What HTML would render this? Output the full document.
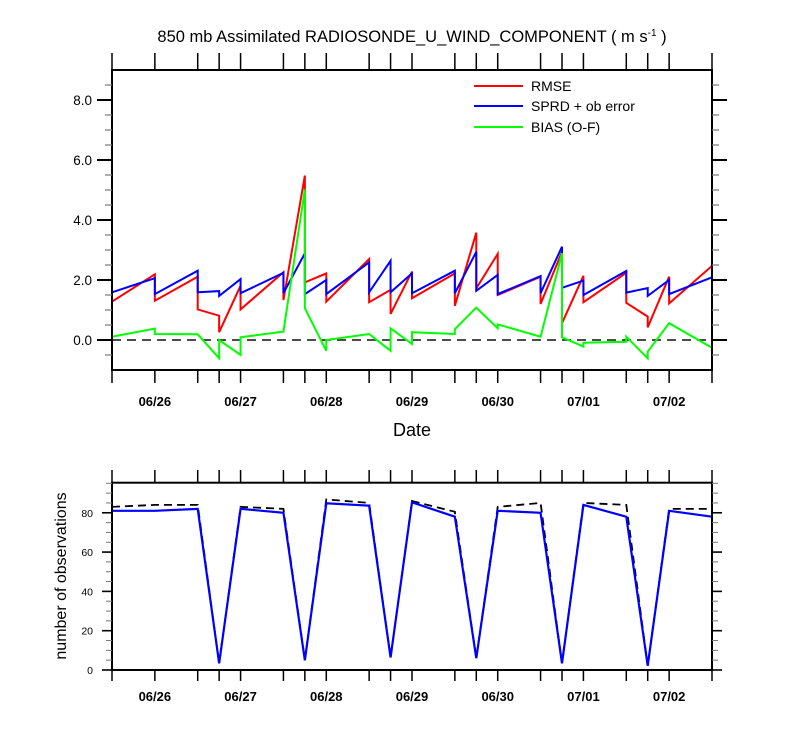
<!DOCTYPE html>
<html><head><meta charset="utf-8"><style>
body{margin:0;background:#fff;}
svg{display:block;font-family:"Liberation Sans",Arial,sans-serif;}
</style></head><body>
<svg id="c" width="800" height="750" viewBox="0 0 800 750">
<text x="412" y="42" text-anchor="middle" font-size="16.5">850 mb Assimilated RADIOSONDE_U_WIND_COMPONENT ( m s<tspan dy="-6" font-size="10">-1</tspan><tspan dy="6"> )</tspan></text>
<text x="412" y="436" text-anchor="middle" font-size="18">Date</text>
<text transform="translate(66,576) rotate(-90)" text-anchor="middle" font-size="16">number of observations</text>
<g>
<line x1="474" y1="86" x2="523" y2="86" stroke="#f00" stroke-width="2"/>
<text x="531" y="91" font-size="14">RMSE</text>
<line x1="474" y1="106" x2="523" y2="106" stroke="#00f" stroke-width="2"/>
<text x="531" y="111" font-size="14">SPRD + ob error</text>
<line x1="474" y1="127" x2="523" y2="127" stroke="#0f0" stroke-width="2"/>
<text x="531" y="132" font-size="14">BIAS (O-F)</text>
</g>
</svg>
<script>
// data: times in days from 06/25 12Z; each time has [before, after] values
const times=[0,0.5,1,1.25,1.5,2,2.25,2.5,3,3.25,3.5,4,4.25,4.5,5,5.25,5.5,6,6.25,6.5,7];
const rmse=[[2.2,1.28],[2.19,1.31],[2.11,1.02],[0.81,0.26],[1.81,1.02],[2.26,1.33],[5.48,1.92],[2.22,1.28],[2.7,1.26],[1.67,0.87],[2.28,1.39],[2.22,1.14],[3.58,1.72],[2.87,1.5],[2.11,1.2],[2.94,0.56],[2.14,1.26],[2.24,1.24],[0.78,0.42],[2.11,1.22],[2.47,1.28]];
const sprd=[[1.59,1.59],[2.06,1.53],[2.31,1.59],[1.63,1.47],[2.03,1.56],[2.24,1.56],[2.89,1.53],[2.0,1.53],[2.59,1.59],[2.64,1.59],[2.22,1.56],[2.31,1.56],[2.94,1.64],[2.17,1.53],[2.13,1.56],[3.11,1.74],[1.98,1.5],[2.3,1.58],[1.73,1.47],[2.0,1.53],[2.09,2.09]];
const bias=[[-0.36,0.11],[0.38,0.2],[0.19,0.19],[-0.61,0.0],[-0.5,0.09],[0.28,0.28],[5.02,1.06],[-0.36,0.0],[0.2,0.2],[-0.36,0.39],[-0.13,0.26],[0.2,0.36],[1.08,1.08],[0.39,0.52],[0.11,0.11],[2.89,0.09],[-0.22,-0.09],[-0.06,0.11],[-0.61,-0.39],[0.56,0.56],[-0.26,-0.26]];
const obsUsed=[81,81,82,3.4,82,80,5,84.8,83.6,6.4,85.3,78,6,81,80,3.4,84,78,2.2,81,78];
const obsTotal=[83,84,84,3.4,83,82,5,86.8,85,6.4,86,80.5,6,83,85,3.4,85,84,2.2,82,82];
const dayLabels=["06/26","06/27","06/28","06/29","06/30","07/01","07/02"];
const dayTimes=[0.5,1.5,2.5,3.5,4.5,5.5,6.5];
const yTicks1=[0,2,4,6,8];
const yTicks2=[0,20,40,60,80];

const svg=document.getElementById('c');
const NS='http://www.w3.org/2000/svg';
function el(tag,attrs,parent){const e=document.createElementNS(NS,tag);for(const k in attrs)e.setAttribute(k,attrs[k]);(parent||svg).appendChild(e);return e;}
const X0=112,X1=712;
const xs=t=>X0+t/7*(X1-X0);
const y1=v=>370-(v+1)/10*300;
const y2=v=>670-v*(670-482.7)/95.3;

// top chart
const g1=el('g',{});


const zl=el('line',{x1:X0,x2:X1,y1:y1(0),y2:y1(0),stroke:'#333','stroke-width':1.8,'stroke-dasharray':'9,6'},g1);


function pairPath(arr){let d='';arr.forEach((p,i)=>{d+=(i?'L':'M')+xs(times[i])+','+y1(p[0])+'L'+xs(times[i])+','+y1(p[1]);});return d;}
[[rmse,'#f00','rmse-line'],[sprd,'#00f','sprd-line'],[bias,'#0f0','bias-line']].forEach(s=>{
  const p=el('path',{d:pairPath(s[0]),fill:'none',stroke:s[1],'stroke-width':2,'stroke-linejoin':'miter'},g1);
  
  
});
el('rect',{x:X0,y:70,width:X1-X0,height:300,fill:'none',stroke:'#000','stroke-width':2},g1);
times.forEach(t=>{
  el('line',{x1:xs(t),x2:xs(t),y1:70,y2:53,stroke:'#000','stroke-width':1.5},g1);
  el('line',{x1:xs(t),x2:xs(t),y1:370,y2:383,stroke:'#000','stroke-width':1.5},g1);
});
for(let v=-0.5;v<=8.5;v+=0.5){
  const maj=Math.abs(v%2)<1e-6;
  const L=maj?15:7;
  el('line',{x1:X0-L,x2:X0,y1:y1(v),y2:y1(v),stroke:maj?'#000':'#777','stroke-width':maj?2:1.2},g1);
  el('line',{x1:X1,x2:X1+L,y1:y1(v),y2:y1(v),stroke:maj?'#000':'#777','stroke-width':maj?2:1.2},g1);
}
yTicks1.forEach(v=>{
  const t=el('text',{x:92,y:y1(v)+5,'text-anchor':'end','font-size':13.5},g1);
  t.textContent=v.toFixed(1);
  
  
});
dayTimes.forEach((t,i)=>{
  const tx=el('text',{x:xs(t),y:406,'text-anchor':'middle','font-size':13,'font-weight':'bold'},g1);
  tx.textContent=dayLabels[i];
  
  
});

// bottom chart
const g2=el('g',{});


function linePath(arr){return arr.map((v,i)=>(i?'L':'M')+xs(times[i])+','+y2(v)).join('');}
const pt=el('path',{d:linePath(obsTotal),fill:'none',stroke:'#000','stroke-width':1.8,'stroke-dasharray':'8,5'},g2);


const pu=el('path',{d:linePath(obsUsed),fill:'none',stroke:'#00f','stroke-width':2.2},g2);


el('rect',{x:X0,y:482.7,width:X1-X0,height:670-482.7,fill:'none',stroke:'#000','stroke-width':2},g2);
times.forEach(t=>{
  el('line',{x1:xs(t),x2:xs(t),y1:482.7,y2:470,stroke:'#000','stroke-width':1.5},g2);
  el('line',{x1:xs(t),x2:xs(t),y1:670,y2:681,stroke:'#000','stroke-width':1.5},g2);
});
for(let v=0;v<=95;v+=5){
  const maj=v%20===0;
  const L=maj?10:6;
  el('line',{x1:X0-L,x2:X0,y1:y2(v),y2:y2(v),stroke:maj?'#000':'#777','stroke-width':maj?1.6:1},g2);
  el('line',{x1:X1,x2:X1+L,y1:y2(v),y2:y2(v),stroke:maj?'#000':'#777','stroke-width':maj?1.6:1},g2);
}
yTicks2.forEach(v=>{
  const t=el('text',{x:93,y:y2(v)+4,'text-anchor':'end','font-size':10.5},g2);
  t.textContent=String(v);
  
  
});
dayTimes.forEach((t,i)=>{
  const tx=el('text',{x:xs(t),y:701,'text-anchor':'middle','font-size':13,'font-weight':'bold'},g2);
  tx.textContent=dayLabels[i];
  
  
});
</script>
</body></html>
